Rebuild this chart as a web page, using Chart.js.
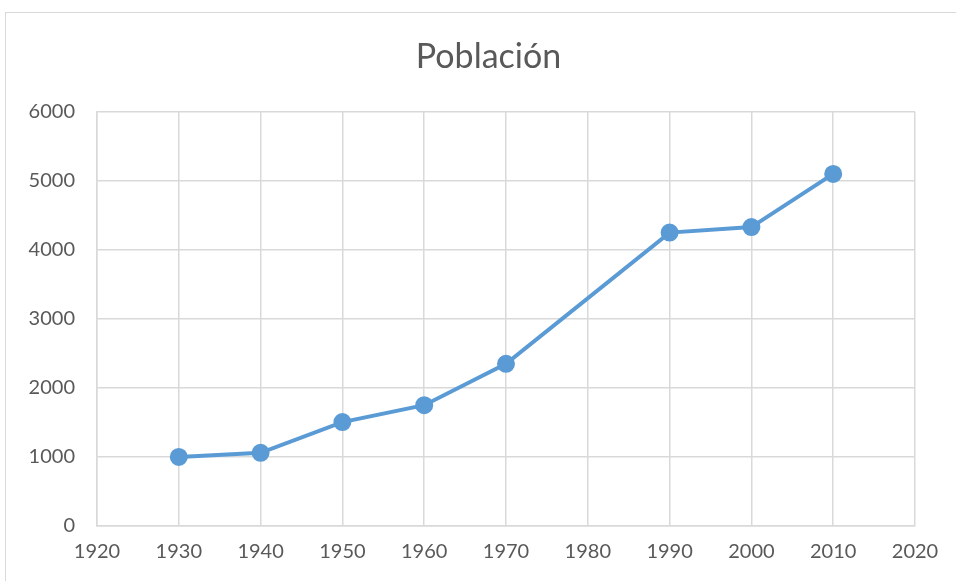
<!DOCTYPE html>
<html>
<head>
<meta charset="utf-8">
<script src="https://cdn.jsdelivr.net/npm/chart.js@4"></script>
<style>
  html, body { margin: 0; padding: 0; background: #fff; }
  #wrap { position: relative; width: 956px; height: 581px; overflow: hidden; }
  #frame { position: absolute; left: 5px; top: 12px; width: 1000px; height: 1000px; border: 1px solid #d9d9d9; box-sizing: border-box; }
  canvas { position: absolute; left: 0; top: 0; }
</style>
</head>
<body>
<div id="wrap">
  <div id="frame"></div>
  <canvas id="popChart" width="956" height="581"></canvas>
</div>
<script>
// Datos del gráfico
const years = [1930, 1940, 1950, 1960, 1970, 1990, 2000, 2010];
const population = [1000, 1060, 1505, 1750, 2350, 4250, 4330, 5100];
const xMin = 1920, xMax = 2020, xStep = 10;
const yMin = 0, yMax = 6000, yStep = 1000;

const points = years.map((y, i) => ({ x: y, y: population[i] }));

const textColor = "#595959";
const gridColor = "#d9d9d9";

// el título va centrado en todo el marco, no en el área del gráfico
const shiftTitle = {
    id: "shiftTitle",
    afterLayout(chart) {
        const t = chart.titleBlock;
        if (t) { t.left += 31; t.right += 31; }
    }
};

const config = {
    type: "scatter",
    data: {
        datasets: [{
            label: "Población",
            data: points,
            showLine: true,
            borderColor: "#5b9bd5",
            backgroundColor: "#5b9bd5",
            borderWidth: 4,
            pointRadius: 7,
            pointHoverRadius: 7
        }]
    },
    options: {
        responsive: false,
        animation: false,
        layout: { padding: { left: 0, right: 41, top: 0, bottom: 0 } },
        plugins: {
            legend: { display: false },
            tooltip: { enabled: false },
            title: {
                display: true,
                text: "Población",
                color: textColor,
                font: { family: "Lato", size: 34, weight: "normal" },
                padding: { top: 37, bottom: 34 }
            }
        },
        scales: {
            x: {
                type: "linear",
                min: xMin,
                max: xMax,
                ticks: { stepSize: xStep, color: textColor, font: { family: "Lato", size: 20 }, padding: 14, callback: v => String(v) },
                grid: { color: gridColor, lineWidth: 1.5, drawTicks: false },
                border: { color: gridColor, width: 1.5 },
                afterFit: s => { s.height = 55; }
            },
            y: {
                min: yMin,
                max: yMax,
                ticks: { stepSize: yStep, color: textColor, font: { family: "Lato", size: 20 }, padding: 22, callback: v => String(v) },
                grid: { color: gridColor, lineWidth: 1.5, drawTicks: false },
                border: { color: gridColor, width: 1.5 },
                afterFit: s => { s.width = 97; }
            }
        }
    },
    plugins: [shiftTitle]
};

new Chart(document.getElementById("popChart"), config);
</script>
</body>
</html>
